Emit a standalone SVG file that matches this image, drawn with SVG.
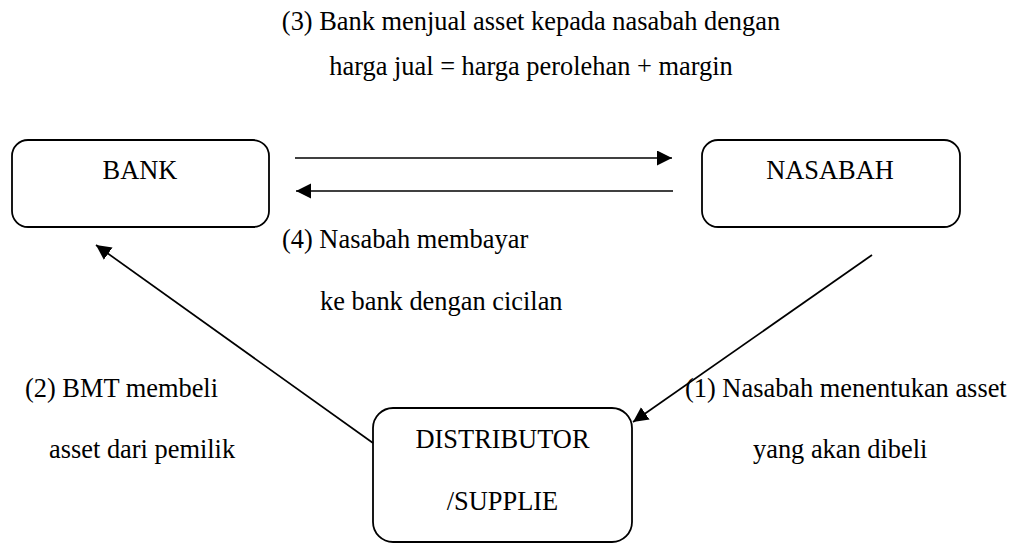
<svg xmlns="http://www.w3.org/2000/svg" width="1019" height="544" viewBox="0 0 1019 544">
  <style>
    .box { fill: #fff; stroke: #000; stroke-width: 1.8; }
    .con { stroke: #000; stroke-width: 1.7; fill: none; marker-end: url(#ah); }
  </style>
  <defs>
    <marker id="ah" markerUnits="userSpaceOnUse" markerWidth="16" markerHeight="16" refX="15" refY="7.5" orient="auto">
      <path d="M0,0 L15,7.5 L0,15 Z" fill="#000"/>
    </marker>
  </defs>
  <rect width="1019" height="544" fill="#fff"/>

  <g font-family="'Liberation Serif', 'Times New Roman', Times, serif" font-size="26.4" fill="#000">
  <g id="label-3" text-anchor="middle">
    <text x="531" y="30">(3) Bank menjual asset kepada nasabah dengan</text>
    <text x="531" y="75">harga jual = harga perolehan + margin</text>
  </g>

  <g id="bank">
    <rect class="box" x="12" y="140" width="257" height="87" rx="16" ry="16"/>
    <text x="140" y="179" text-anchor="middle">BANK</text>
  </g>

  <g id="nasabah">
    <rect class="box" x="702" y="140" width="258" height="87" rx="16" ry="16"/>
    <text x="830" y="179" text-anchor="middle">NASABAH</text>
  </g>

  <g id="distributor">
    <rect class="box" x="373" y="408" width="259" height="134" rx="20" ry="20"/>
    <text x="502.5" y="448" text-anchor="middle">DISTRIBUTOR</text>
    <text x="502.5" y="510" text-anchor="middle">/SUPPLIE</text>
  </g>

  <g id="connectors">
    <line class="con" x1="295" y1="158" x2="672" y2="158"/>
    <line class="con" x1="673" y1="191" x2="296" y2="191"/>
    <line class="con" x1="373" y1="443" x2="96" y2="245"/>
    <line class="con" x1="872" y1="255" x2="633" y2="422"/>
  </g>

  <g id="label-4">
    <text x="282" y="248">(4) Nasabah membayar</text>
    <text x="320" y="310">ke bank dengan cicilan</text>
  </g>

  <g id="label-2">
    <text x="25" y="397">(2) BMT membeli</text>
    <text x="49" y="458">asset dari pemilik</text>
  </g>

  <g id="label-1">
    <text x="685" y="397">(1) Nasabah menentukan asset</text>
    <text x="753" y="458">yang akan dibeli</text>
  </g>
  </g>
</svg>
